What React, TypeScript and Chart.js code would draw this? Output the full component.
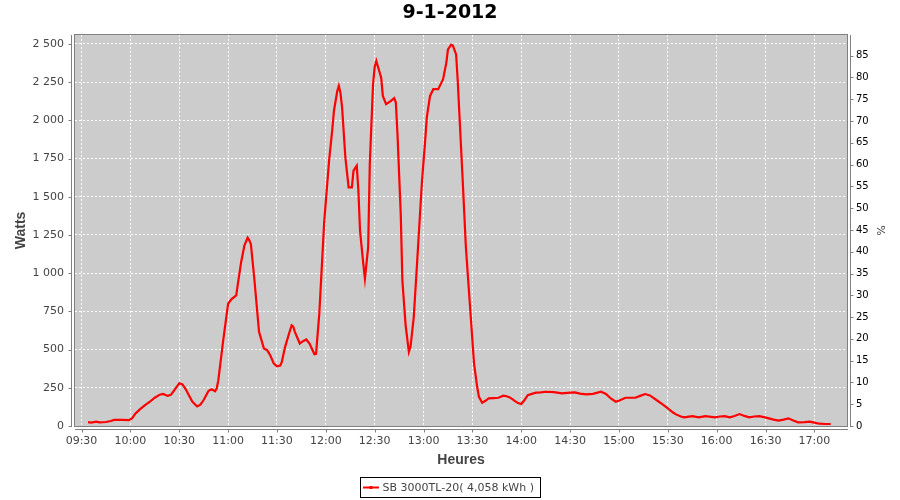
import React, { useEffect, useRef } from "react";
import { Chart, registerables } from "chart.js";

Chart.register(...registerables);

const TITLE = "9-1-2012";
const SERIES_LABEL = "SB 3000TL-20( 4,058 kWh )";
const X_TITLE = "Heures";
const Y_TITLE = "Watts";
const Y2_TITLE = "%";

const times: string[] = [
  "09:34", "09:36", "09:39", "09:41", "09:45", "09:48", "09:50", "09:55", "09:59", "10:01",
  "10:03", "10:06", "10:09", "10:12", "10:15", "10:18", "10:20", "10:23", "10:25", "10:28",
  "10:30", "10:32", "10:34", "10:36", "10:38", "10:41", "10:43", "10:45", "10:48", "10:50",
  "10:52", "10:53", "10:54", "10:57", "11:00", "11:02", "11:05", "11:06", "11:08", "11:10",
  "11:12", "11:13", "11:14", "11:16", "11:19", "11:20", "11:22", "11:24", "11:26", "11:28",
  "11:30", "11:32", "11:33", "11:35", "11:37", "11:39", "11:40", "11:41", "11:44", "11:46",
  "11:48", "11:50", "11:53", "11:54", "11:56", "11:59", "12:02", "12:04", "12:05", "12:07",
  "12:08", "12:09", "12:10", "12:12", "12:14", "12:16", "12:17", "12:19", "12:20", "12:21",
  "12:23", "12:24", "12:26", "12:27", "12:29", "12:30", "12:31", "12:34", "12:35", "12:37",
  "12:40", "12:42", "12:43", "12:44", "12:46", "12:47", "12:49", "12:51", "12:52", "12:54",
  "12:56", "12:59", "13:01", "13:02", "13:04", "13:06", "13:09", "13:12", "13:14", "13:15",
  "13:17", "13:18", "13:20", "13:21", "13:24", "13:26", "13:29", "13:31", "13:33", "13:34",
  "13:36", "13:38", "13:40", "13:43", "13:46", "13:49", "13:51", "13:53", "13:56", "13:58",
  "14:00", "14:02", "14:04", "14:07", "14:09", "14:12", "14:15", "14:20", "14:25", "14:30",
  "14:33", "14:36", "14:40", "14:44", "14:49", "14:52", "14:55", "14:58", "15:01", "15:04",
  "15:10", "15:13", "15:16", "15:19", "15:23", "15:27", "15:30", "15:33", "15:35", "15:38",
  "15:40", "15:45", "15:49", "15:53", "15:59", "16:02", "16:05", "16:08", "16:11", "16:14",
  "16:17", "16:20", "16:23", "16:26", "16:29", "16:32", "16:35", "16:38", "16:41", "16:44",
  "16:47", "16:50", "16:54", "16:57", "17:00", "17:03", "17:07", "17:10",
];

const watts: number[] = [
  25, 22, 28, 24, 26, 33, 40, 40, 38, 50,
  80, 110, 137, 160, 185, 205, 210, 197, 205, 250,
  280, 272, 240, 200, 160, 128, 140, 170, 230, 240,
  228, 245, 300, 560, 800, 829, 855, 930, 1072, 1180,
  1232, 1215, 1190, 975, 616, 580, 507, 496, 460, 410,
  390, 395, 420, 518, 590, 659, 650, 616, 540, 555,
  566, 540, 470, 472, 735, 1334, 1736, 1943, 2063, 2190,
  2226, 2180, 2084, 1758, 1562, 1562, 1671, 1704, 1540, 1279,
  1062, 964, 1170, 1715, 2237, 2350, 2389, 2280, 2160, 2106,
  2128, 2146, 2117, 1911, 1388, 953, 659, 485, 518, 713,
  1062, 1595, 1867, 2019, 2160, 2204, 2204, 2269, 2378, 2465,
  2495, 2490, 2432, 2258, 1617, 1170, 713, 409, 250, 191,
  152, 165, 181, 183, 185, 198, 195, 187, 165, 150,
  144, 170, 202, 212, 218, 220, 224, 222, 213, 218,
  220, 212, 207, 210, 224, 210, 180, 159, 170, 185,
  185, 197, 209, 200, 170, 140, 116, 90, 76, 62,
  57, 65, 57, 65, 57, 62, 65, 57, 65, 78,
  66, 57, 62, 65, 58, 50, 42, 35, 42, 50,
  36, 24, 25, 28, 22, 15, 13, 13,
];

const wattTicks: number[] = [0, 250, 500, 750, 1000, 1250, 1500, 1750, 2000, 2250, 2500];
const pctTicks: number[] = [0, 5, 10, 15, 20, 25, 30, 35, 40, 45, 50, 55, 60, 65, 70, 75, 80, 85];
const timeTicks: string[] = [
  "09:30", "10:00", "10:30", "11:00", "11:30", "12:00", "12:30", "13:00",
  "13:30", "14:00", "14:30", "15:00", "15:30", "16:00", "16:30", "17:00",
];

const X_MIN = "09:26";
const X_MAX = "17:20";
const WATT_MAX = 2560;
const PCT_MAX = 89.8;

const toMin = (t: string) => {
  const [h, m] = t.split(":").map(Number);
  return h * 60 + m;
};
const fmtMin = (v: number) => {
  const h = Math.floor(v / 60);
  const m = Math.round(v - h * 60);
  return String(h).padStart(2, "0") + ":" + String(m).padStart(2, "0");
};
const fmtWatts = (v: number) => {
  const s = String(Math.round(v));
  return s.replace(/\B(?=(\d{3})+(?!\d))/g, " ");
};

const AXIS_COLOR = "#808080";
const LABEL_COLOR = "#444444";

const chromePlugin = {
  id: "chrome",
  beforeDraw(chart: any) {
    const { ctx, chartArea: a } = chart;
    ctx.save();
    ctx.fillStyle = "#cccccc";
    ctx.fillRect(a.left, a.top, a.right - a.left, a.bottom - a.top);
    ctx.restore();
  },
  beforeDatasetsDraw(chart: any) {
    const { ctx, chartArea: a } = chart;
    ctx.save();
    ctx.strokeStyle = AXIS_COLOR;
    ctx.lineWidth = 1;
    ctx.strokeRect(Math.round(a.left) - 0.5, Math.round(a.top) - 0.5, Math.round(a.right - a.left) + 1, Math.round(a.bottom - a.top) + 1);
    ctx.restore();
  },
  afterDraw(chart: any) {
    const { ctx, chartArea: a, scales } = chart;
    const L = Math.round(a.left), R = Math.round(a.right), T = Math.round(a.top), B = Math.round(a.bottom);
    ctx.save();
    ctx.strokeStyle = AXIS_COLOR;
    ctx.lineWidth = 1;
    ctx.beginPath();
    const lx = L - 3.5;
    ctx.moveTo(lx, T);
    ctx.lineTo(lx, B + 1);
    scales.y.ticks.forEach((t: any) => {
      const py = Math.round(scales.y.getPixelForValue(t.value)) + 0.5;
      ctx.moveTo(lx - 3, py);
      ctx.lineTo(lx, py);
    });
    const rx = R + 3.5;
    ctx.moveTo(rx, T);
    ctx.lineTo(rx, B + 1);
    scales.y2.ticks.forEach((t: any) => {
      const py = Math.round(scales.y2.getPixelForValue(t.value)) + 0.5;
      ctx.moveTo(rx, py);
      ctx.lineTo(rx + 3, py);
    });
    const by = B + 3.5;
    ctx.moveTo(L, by);
    ctx.lineTo(R + 1, by);
    scales.x.ticks.forEach((t: any) => {
      const px = Math.round(scales.x.getPixelForValue(t.value)) + 0.5;
      ctx.moveTo(px, by);
      ctx.lineTo(px, by + 3);
    });
    ctx.stroke();

    // legend
    ctx.font = "11px 'DejaVu Sans'";
    const tw = ctx.measureText(SERIES_LABEL).width;
    const boxW = Math.round(3 + 16 + 4 + tw + 6);
    const boxH = 20;
    const bx = Math.round(450 - boxW / 2) + 0.5;
    const byy = 477.5;
    ctx.strokeStyle = "#000000";
    ctx.strokeRect(bx, byy, boxW, boxH);
    ctx.strokeStyle = "#ff0000";
    ctx.lineWidth = 2;
    ctx.beginPath();
    ctx.moveTo(bx + 2.5, byy + 10);
    ctx.lineTo(bx + 18.5, byy + 10);
    ctx.stroke();
    ctx.fillStyle = "#ff0000";
    ctx.fillRect(bx + 9, byy + 8.5, 3, 3);
    ctx.fillStyle = LABEL_COLOR;
    ctx.textBaseline = "middle";
    ctx.textAlign = "left";
    ctx.fillText(SERIES_LABEL, bx + 22, byy + 10.5);
    ctx.restore();
  },
};

export default function App() {
  const ref = useRef<HTMLCanvasElement | null>(null);
  useEffect(() => {
    if (!ref.current) return;
    const data = times.map((t, i) => ({ x: toMin(t), y: watts[i] }));
    const gridCommon = {
      color: "rgba(255,255,255,0.95)",
      lineWidth: 1,
      drawTicks: false,
      borderDash: [2, 2],
    };
    const borderCommon = { display: false, dash: [2, 2] };
    const chart = new Chart(ref.current, {
      type: "line",
      data: {
        datasets: [
          {
            label: SERIES_LABEL,
            data,
            borderColor: "#ff0000",
            backgroundColor: "#ff0000",
            borderWidth: 2.2,
            pointRadius: 0,
            tension: 0,
            yAxisID: "y",
            xAxisID: "x",
          },
        ],
      },
      plugins: [chromePlugin],
      options: {
        animation: false,
        responsive: false,
        devicePixelRatio: 1,
        layout: { padding: 0 },
        plugins: {
          legend: { display: false },
          tooltip: { enabled: false },
          title: {
            display: true,
            text: TITLE,
            color: "#000000",
            font: { family: "'DejaVu Sans'", size: 19, weight: "bold", lineHeight: 1.2 },
            padding: { top: 2, bottom: 10 },
          },
        },
        scales: {
          x: {
            type: "linear",
            position: "bottom",
            min: toMin(X_MIN),
            max: toMin(X_MAX),
            afterFit: (s: any) => {
              s.height = 74;
            },
            afterBuildTicks: (s: any) => {
              s.ticks = timeTicks.map((t) => ({ value: toMin(t) }));
            },
            border: borderCommon,
            grid: gridCommon as any,
            ticks: {
              autoSkip: false,
              maxRotation: 0,
              padding: 9,
              color: LABEL_COLOR,
              font: { family: "'DejaVu Sans'", size: 11 },
              callback: (v: any) => fmtMin(Number(v)),
            },
            title: {
              display: true,
              text: X_TITLE,
              color: LABEL_COLOR,
              font: { family: "'Liberation Sans'", size: 14, weight: "bold", lineHeight: 1.2 },
              padding: { top: 0, bottom: 31.6 },
            },
          },
          y: {
            type: "linear",
            position: "left",
            min: 0,
            max: WATT_MAX,
            afterFit: (s: any) => {
              s.width = 75;
            },
            afterBuildTicks: (s: any) => {
              s.ticks = wattTicks.map((v) => ({ value: v }));
            },
            border: borderCommon,
            grid: gridCommon as any,
            ticks: {
              autoSkip: false,
              padding: 11,
              color: LABEL_COLOR,
              font: { family: "'DejaVu Sans'", size: 11 },
              callback: (v: any) => fmtWatts(Number(v)),
            },
            title: {
              display: true,
              text: Y_TITLE,
              color: LABEL_COLOR,
              font: { family: "'Liberation Sans'", size: 14, weight: "bold", lineHeight: 1.2 },
              padding: { top: 12.6, bottom: 0 },
            },
          },
          y2: {
            type: "linear",
            position: "right",
            min: 0,
            max: PCT_MAX,
            afterFit: (s: any) => {
              s.width = 53;
            },
            afterBuildTicks: (s: any) => {
              s.ticks = pctTicks.map((v) => ({ value: v }));
            },
            border: { display: false },
            grid: { display: false, drawTicks: false },
            ticks: {
              autoSkip: false,
              padding: 9,
              color: "#000000",
              font: { family: "'DejaVu Sans'", size: 10 },
              callback: (v: any) => String(v),
            },
            title: {
              display: true,
              text: Y2_TITLE,
              color: LABEL_COLOR,
              font: { family: "'DejaVu Sans'", size: 11, lineHeight: 1.2 },
              padding: { top: 13.4, bottom: 0 },
            },
          },
        },
      } as any,
    });
    return () => chart.destroy();
  }, []);
  return (
    <div style={{ position: "absolute", left: 0, top: 0, width: 900, height: 500, background: "#ffffff" }}>
      <canvas ref={ref} width={900} height={500} style={{ width: 900, height: 500 }} />
    </div>
  );
}
